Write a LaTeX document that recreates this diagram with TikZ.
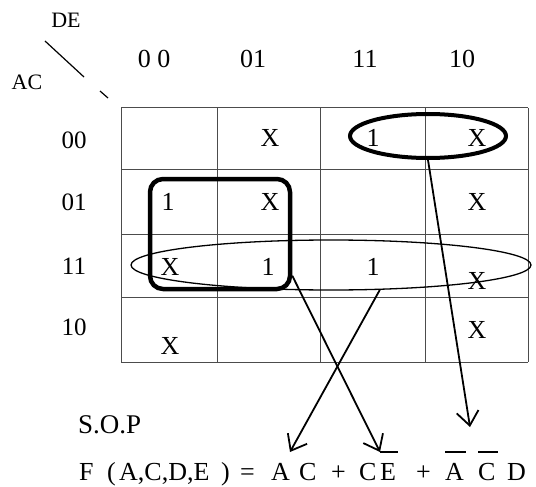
\documentclass[tikz,border=0pt]{standalone}
\usepackage{fontspec}
\setmainfont{Liberation Serif}
\usetikzlibrary{arrows.meta,shapes.geometric}
\newcommand\negbar[1]{\setbox0\hbox{#1}\rlap{\raisebox{27pt}{\rule{\dimexpr\wd0+2pt\relax}{1.8pt}}}\box0}
\newcommand\termbox[2]{\makebox[#1][l]{#2}}
\tikzset{
  kcell/.style={font=\fontsize{26}{30}\selectfont},
  klabel/.style={font=\fontsize{26}{30}\selectfont},
  kvar/.style={font=\fontsize{22}{26}\selectfont},
  kgrid/.style={black!70, line width=1pt},
  sop arrow/.style={line width=1.8pt, -{Straight Barb[length=14pt,width=22pt,line width=1.8pt]}}
}
\begin{document}
\begin{tikzpicture}[x=1pt,y=-1pt]
\useasboundingbox (0,0) rectangle (536,487);
% variables in the corner
\node[kvar] (de) at (66,20) {DE};
\node[kvar] (ac) at (27,82) {AC};
\draw[line width=1.2pt] (45,41) -- (84,77);
\draw[line width=1.2pt] (100,91) -- (108,98);
% column and row headings
\node[klabel] (c00) at (154,59) {0 0};
\node[klabel] (c01) at (253,59) {01};
\node[klabel] (c11) at (365,59) {11};
\node[klabel] (c10) at (462,59) {10};
\node[klabel, font=\fontsize{25}{30}\selectfont] (r00) at (74,140) {00};
\node[klabel, font=\fontsize{25}{30}\selectfont] (r01) at (74,202) {01};
\node[klabel, font=\fontsize{25}{30}\selectfont] (r11) at (74,266) {11};
\node[klabel, font=\fontsize{25}{30}\selectfont] (r10) at (74,327) {10};
% the map
\foreach \x in {121,217,320,425,528}
  \draw[kgrid] (\x,108) -- (\x,362);
\foreach \y in {108,169,234,297,362}
  \draw[kgrid] (121,\y) -- (528,\y);
% cell values
\node[kcell] (m01) at (270,138) {X};
\node[kcell] (m03) at (373,138) {1};
\node[kcell] (m02) at (477,138) {X};
\node[kcell] (m11) at (168,202) {1};
\node[kcell] (m12) at (270,202) {X};
\node[kcell] (m14) at (477,202) {X};
\node[kcell] (m31) at (170,267) {X};
\node[kcell] (m32) at (268,267) {1};
\node[kcell] (m33) at (373,267) {1};
\node[kcell] (m34) at (477,281) {X};
\node[kcell] (m21) at (170,346) {X};
\node[kcell] (m24) at (477,330) {X};
% groups
\node[draw, ellipse, line width=4pt, minimum width=156pt, minimum height=44pt] (grpB) at (428,136) {};
\node[draw, rounded corners=13pt, line width=4.5pt, minimum width=140pt, minimum height=110pt] (grpA) at (220,234) {};
\node[draw, ellipse, line width=1.3pt, minimum width=400pt, minimum height=50pt] (grpC) at (331,265) {};
% result
\node[anchor=base west, inner sep=0pt, font=\fontsize{27}{30}\selectfont] (sop) at (78,433) {S.O.P};
\node[anchor=base west, inner sep=0pt, font=\fontsize{26}{30}\selectfont] (func) at (79,480)
  {\termbox{28pt}{F}\termbox{12pt}{(}\termbox{102pt}{A,C,D,E}\termbox{19pt}{)}\termbox{31pt}{=}%
   \termbox{28pt}{A}\termbox{32pt}{C}\termbox{28pt}{+}\termbox{21pt}{C}\termbox{36pt}{\negbar{E}}%
   \termbox{29pt}{+}\termbox{33pt}{\negbar{A}}\termbox{29pt}{\negbar{C}}D};
\coordinate (tipA) at (290,452);
\coordinate (tipB) at (380,452);
\coordinate (tipC) at (470,427);
\draw[sop arrow] (grpA.-30) -- (tipB);
\draw[sop arrow] (grpC.-27) -- (tipA);
\draw[sop arrow] (grpB.south) -- (tipC);
\end{tikzpicture}
\end{document}
